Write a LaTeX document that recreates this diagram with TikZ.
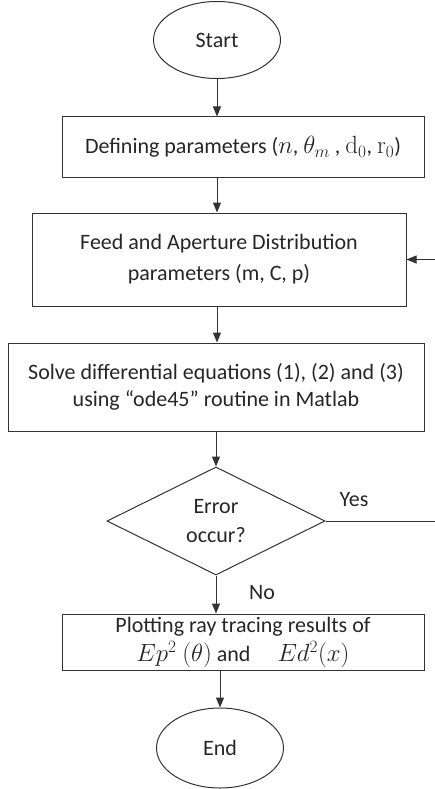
\documentclass[tikz,border=0pt]{standalone}
\usepackage[no-math]{fontspec}
\setmainfont{Carlito}
\usetikzlibrary{shapes.geometric,arrows.meta}
\newcommand{\bigmath}[1]{{\fontsize{25}{26}\selectfont$#1$}}
\begin{document}
\begin{tikzpicture}[x=1pt,y=-1pt,
  every node/.style={font=\fontsize{22}{26}\selectfont, text=black!85},
  term/.style={draw=black!80, line width=1pt, ellipse, minimum width=127pt, minimum height=77pt, inner sep=0pt},
  proc/.style={draw=black!80, line width=1pt, rectangle, align=center, inner sep=0pt},
  dec/.style={draw=black!80, line width=1pt, diamond, align=center, minimum width=218pt, minimum height=108pt, inner sep=0pt},
  link/.style={draw=black!80, line width=1pt, -{Triangle[length=10pt,width=8pt]}},
  plain/.style={draw=black!80, line width=1pt}]
\useasboundingbox (0,0) rectangle (435,789);
\node[term] (start) at (217,40) {Start};
\node[proc, minimum width=362pt, minimum height=60pt] (b1) at (243,147) {Defining parameters (\bigmath{n}, \bigmath{\theta_m} , \bigmath{\mathrm{d}_0}, \bigmath{\mathrm{r}_0})};
\node[proc, minimum width=374pt, minimum height=93pt] (b2) at (219,259.5) {Feed and Aperture Distribution\\[5pt]parameters (m, C, p)};
\node[proc, minimum width=416pt, minimum height=88pt] (b3) at (216,387) {Solve differential equations (1), (2) and (3)\\[1pt]using “ode45” routine in Matlab};
\node[dec] (d) at (216,521) {Error\\[3pt]occur?};
\node[proc, minimum width=362pt, minimum height=56pt] (b4) at (243,642) {Plotting ray tracing results of\\[3pt]\bigmath{Ep^2\ (\theta)} and \quad \bigmath{Ed^2(x)}};
\node[term, minimum height=80pt] (end) at (220,748) {End};
\node (yes) at (354,500) {Yes};
\node (no) at (262,593) {No};
\coordinate (e1) at (435,259.5);
\coordinate (e2) at (435,521);
\draw[link] (start.south) -- (start.south |- b1.north);
\draw[link] (b1.south -| start.south) -- (start.south |- b2.north);
\draw[link] (b2.south -| start.south) -- (start.south |- b3.north);
\draw[link] (b3.south -| d.north) -- (d.north);
\draw[link] (d.south) -- (d.south |- b4.north);
\draw[link] (b4.south -| end.north) -- (end.north);
\draw[link] (e1) -- (b2.east);
\draw[plain] (d.east) -- (e2);
\end{tikzpicture}
\end{document}
